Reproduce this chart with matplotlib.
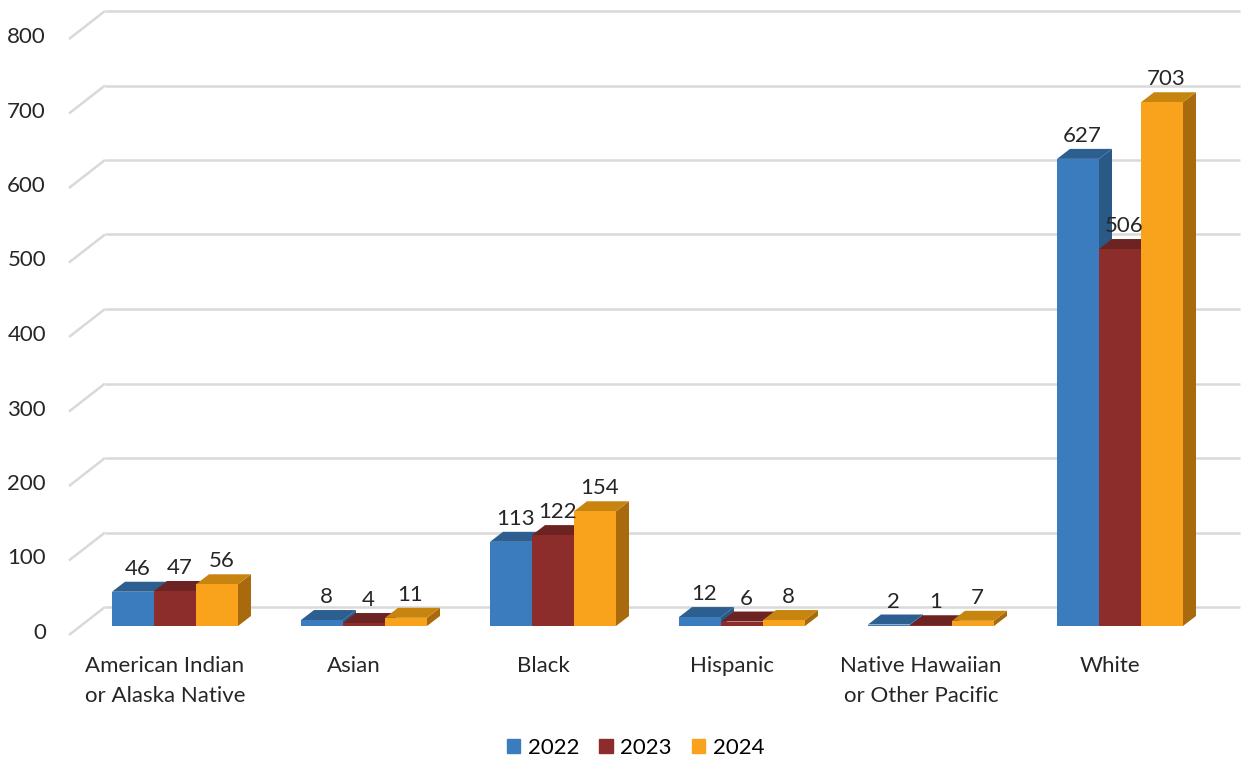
import matplotlib.pyplot as plt
from matplotlib.patches import Polygon, Patch

plt.rcParams['font.family'] = ['Lato', 'DejaVu Sans']

categories = ["American Indian\nor Alaska Native", "Asian", "Black", "Hispanic",
              "Native Hawaiian\nor Other Pacific", "White"]
years = ["2022", "2023", "2024"]
values_2022 = [46, 8, 113, 12, 2, 627]
values_2023 = [47, 4, 122, 6, 1, 506]
values_2024 = [56, 11, 154, 8, 7, 703]
yticks = [0, 100, 200, 300, 400, 500, 600, 700, 800]

series = [values_2022, values_2023, values_2024]
front_cols = ["#3B7CBF", "#8C2D2B", "#F8A31B"]
top_cols = ["#2C5E90", "#6D2321", "#C7840F"]
side_cols = ["#2A5986", "#5E1D1B", "#A86A0C"]

W, H = 1244, 763
fig = plt.figure(figsize=(W / 100, H / 100), dpi=100)
ax = fig.add_axes([0, 0, 1, 1])

# pixel mapping: category i center at 175 + 189*i, value 0 at y=626 (from top), 0.745 px/unit
px_per_cat = 189.0
px_per_val = 0.745
x0_px, y0_px = 175.0, 626.0
ax.set_xlim(-x0_px / px_per_cat, (W - x0_px) / px_per_cat)
ax.set_ylim(-(H - y0_px) / px_per_val, y0_px / px_per_val)
ax.axis("off")

def dx(px):
    return px / px_per_cat

def dy(px):
    return px / px_per_val

fs = 16
txt_col = "#262626"

# back wall gridlines with slanted floor edge
grid_col = "#D9D9D9"
for v in yticks:
    ax.plot([dx(69 - x0_px), dx(105 - x0_px)], [v - dy(9), v + dy(19)],
            color=grid_col, lw=1.8, solid_capstyle="butt", zorder=1)
    ax.plot([dx(105 - x0_px), dx(1240 - x0_px)], [v + dy(19), v + dy(19)],
            color=grid_col, lw=1.8, solid_capstyle="butt", zorder=1)
    ax.text(dx(46 - x0_px), v - dy(7), str(v), ha="right", va="center",
            fontsize=fs, color=txt_col)

# 3d-ish bars
bw = dx(42)
ddx, ddy = dx(13), dy(10)
z = 2
for i in range(len(categories)):
    for j, vals in enumerate(series):
        v = vals[i]
        xl = i - dx(63) + j * bw
        side = Polygon([(xl + bw, 0), (xl + bw + ddx, ddy), (xl + bw + ddx, v + ddy),
                        (xl + bw, v)], closed=True, fc=side_cols[j], ec="none", zorder=z)
        top = Polygon([(xl, v), (xl + bw, v), (xl + bw + ddx, v + ddy), (xl + ddx, v + ddy)],
                      closed=True, fc=top_cols[j], ec="none", zorder=z)
        ax.add_patch(side)
        ax.add_patch(top)
        ax.bar(xl, v, width=bw, align="edge", color=front_cols[j], zorder=z + 0.5)
        ax.text(xl + bw / 2 + ddx / 3, v + ddy + dy(7), str(v), ha="center", va="baseline",
                fontsize=fs, color=txt_col, zorder=100)
        z += 1

# category labels
for i, c in enumerate(categories):
    ax.text(i - dx(10), -dy(30), c, ha="center", va="top", fontsize=fs,
            color=txt_col, linespacing=1.6)

handles = [Patch(color=col, label=y) for col, y in zip(front_cols, years)]
fig.legend(handles=handles, loc="center", bbox_to_anchor=(0.511, 1 - 748 / H), ncol=3,
           frameon=False, fontsize=fs, handlelength=0.6, handleheight=0.6,
           handletextpad=0.35, columnspacing=0.9)

plt.savefig("out.png", dpi=100)
